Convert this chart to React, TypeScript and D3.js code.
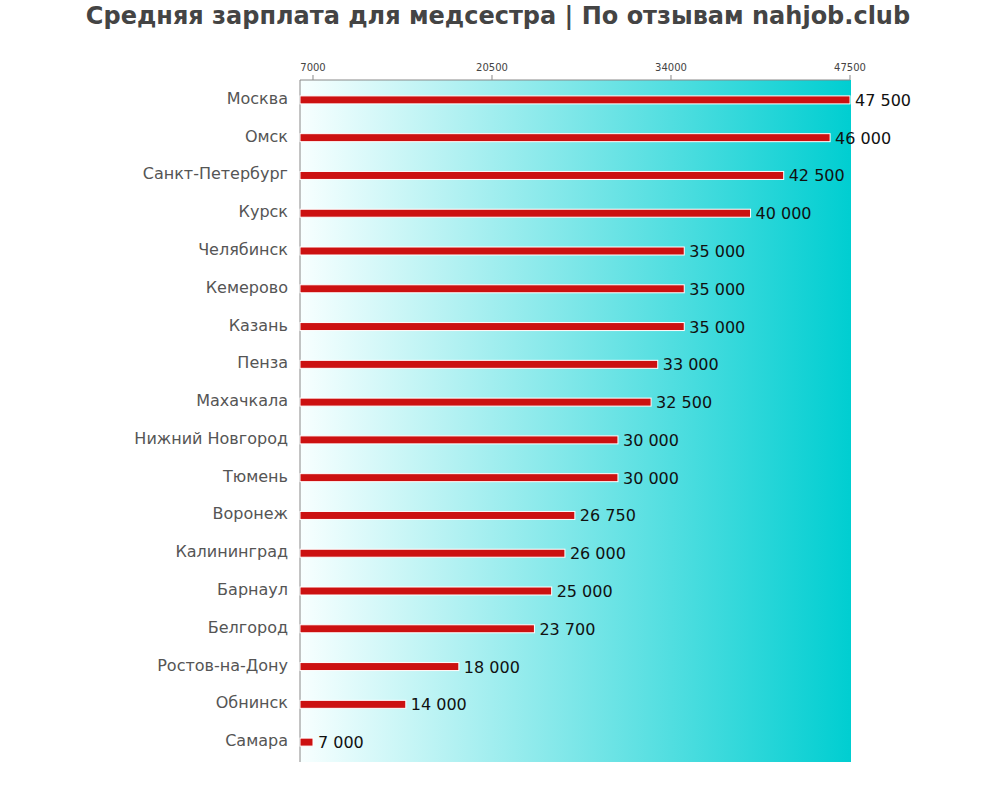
import React from "react";
import * as d3 from "d3";

const title = "Средняя зарплата для медсестра | По отзывам nahjob.club";
const cities = [
  "Москва", "Омск", "Санкт-Петербург", "Курск", "Челябинск", "Кемерово", "Казань", "Пенза",
  "Махачкала", "Нижний Новгород", "Тюмень", "Воронеж", "Калининград", "Барнаул", "Белгород",
  "Ростов-на-Дону", "Обнинск", "Самара",
];
const salaries = [47500, 46000, 42500, 40000, 35000, 35000, 35000, 33000, 32500, 30000, 30000, 26750, 26000, 25000, 23700, 18000, 14000, 7000];
const ticks = [7000, 20500, 34000, 47500];

const W = 1000, H = 800;
const left = 300, right = 850, top = 80, bottom = 762;

export default function App() {
  const x = d3.scaleLinear().domain([6020, 47500]).range([left, right]);
  const y = d3.scaleBand().domain(cities).range([81, 761]);
  const fmt = (v: number) => d3.format(",")(v).replace(/,/g, " ");
  const barH = 8;
  return (
    <svg width={W} height={H} style={{ position: "absolute", left: 0, top: 0, fontFamily: "DejaVu Sans, sans-serif" }}>
      <defs>
        <linearGradient id="bg" x1="0" x2="1" y1="0" y2="0">
          <stop offset="0" stopColor="#f8ffff" />
          <stop offset="1" stopColor="#00ced1" />
        </linearGradient>
      </defs>
      <rect x={0} y={0} width={W} height={H} fill="#fff" />
      <text x={498} y={24} textAnchor="middle" fontSize={24} fontWeight="bold" fill="#444">{title}</text>
      <rect x={left} y={top} width={right - left + 1} height={bottom - top} fill="url(#bg)" />
      <line x1={left} x2={right} y1={top} y2={top} stroke="#888" />
      <line x1={left} x2={left} y1={top} y2={bottom} stroke="#888" />
      {ticks.map((t) => (
        <g key={t}>
          <line x1={x(t)} x2={x(t)} y1={top} y2={top - 5} stroke="#888" />
          <text x={x(t)} y={top - 9} textAnchor="middle" fontSize={10} fill="#444">{t}</text>
        </g>
      ))}
      {cities.map((c, i) => {
        const cy = (y(c) as number) + y.bandwidth() / 2;
        return (
          <g key={c}>
            <text x={left - 12} y={cy + 4} textAnchor="end" fontSize={16} fill="#555">{c}</text>
            <rect x={left} y={cy - barH / 2} width={x(salaries[i]) - left} height={barH} fill="#cc1111" stroke="#fff" strokeWidth={1} />
            <text x={x(salaries[i]) + 5} y={cy + 6} fontSize={16} fill="#111">{fmt(salaries[i])}</text>
          </g>
        );
      })}
    </svg>
  );
}
